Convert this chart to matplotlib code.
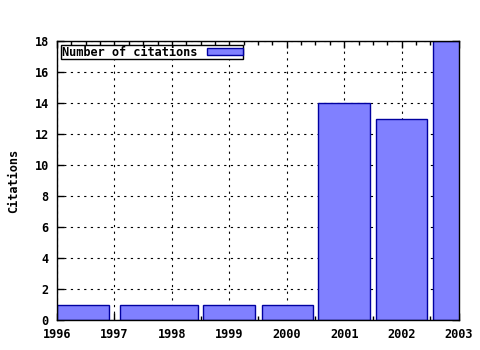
import numpy as np
import matplotlib
matplotlib.use("Agg")
import matplotlib.pyplot as plt
from matplotlib.ticker import MultipleLocator

# citation counts, boxes as (start year, end year)
bar_start = [1996.0, 1997.1, 1998.55, 1999.57, 2000.55, 2001.55, 2002.55]
bar_end = [1996.9, 1998.45, 1999.45, 2000.46, 2001.45, 2002.45, 2003.45]
citations = [1, 1, 1, 1, 14, 13, 18]
year_ticks = [1996, 1997, 1998, 1999, 2000, 2001, 2002, 2003]
count_ticks = [0, 2, 4, 6, 8, 10, 12, 14, 16, 18]

font = {"family": "DejaVu Sans Mono", "weight": "bold", "size": 8.6}

fig = plt.figure(figsize=(4.8, 3.5), dpi=100)
ax = fig.add_axes([57 / 480, 30 / 350, 402 / 480, 279 / 350])

widths = np.array(bar_end) - np.array(bar_start)
ax.bar(bar_start, citations, width=widths, align="edge",
       color="#8080ff", edgecolor="#0000a0", linewidth=1.0,
       label="Number of citations", zorder=3)

ax.set_xlim(1996, 2003)
ax.set_ylim(0, 18)
ax.set_xticks(year_ticks)
ax.set_yticks(count_ticks)
ax.xaxis.set_minor_locator(MultipleLocator(0.25))
ax.set_xticklabels([str(y) for y in year_ticks], fontdict=font)
ax.set_yticklabels([str(c) for c in count_ticks], fontdict=font)
ax.tick_params(which="major", direction="in", length=5, width=1,
               top=True, right=True, pad=6)
ax.tick_params(which="minor", direction="in", length=3, width=1,
               top=True, bottom=True)
ax.grid(True, which="major", color="black", linestyle=(0, (2, 4)),
        linewidth=0.8, zorder=0)
ax.set_axisbelow(True)
for s in ax.spines.values():
    s.set_linewidth(1.0)
    s.set_zorder(4)

ax.set_ylabel("Citations", fontdict=font, labelpad=10)

leg = ax.legend(loc="upper left", prop={"family": "DejaVu Sans Mono",
                "weight": "bold", "size": 8.6},
                fancybox=False, framealpha=1, edgecolor="black",
                borderpad=0.05, handlelength=3.0, handleheight=0.55,
                markerfirst=False, borderaxespad=0.35, handletextpad=0.8)
leg.get_frame().set_linewidth(1.0)

fig.savefig("out.png", dpi=100)
